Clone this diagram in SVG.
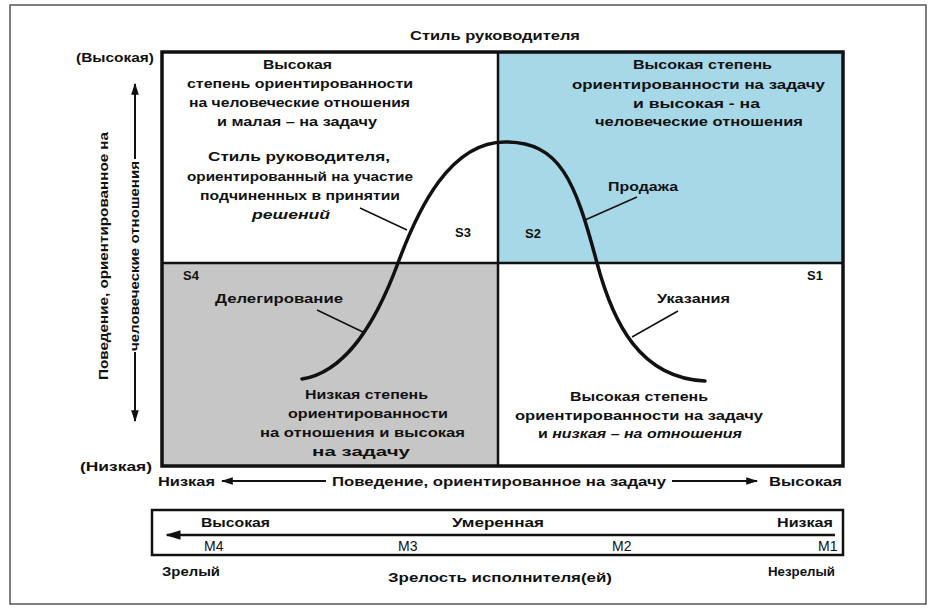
<svg xmlns="http://www.w3.org/2000/svg" width="929" height="610" viewBox="0 0 929 610">
<defs>
<style>
text{font-family:"Liberation Sans","DejaVu Sans",sans-serif;fill:#111;font-weight:bold;font-size:12.5px}
.ax{font-size:13px}
.it{font-style:italic}
.reg{font-weight:normal;font-size:14px}
.ln{stroke:#111;fill:none}
</style>
<marker id="ah" viewBox="0 0 10 10" refX="9" refY="5" markerWidth="6" markerHeight="6" orient="auto-start-reverse" markerUnits="strokeWidth">
<path d="M0,1.8 L10,5 L0,8.2 Z" fill="#111"/>
</marker>
</defs>
<rect x="0" y="0" width="929" height="610" fill="#fff"/>
<rect x="10" y="5" width="916" height="599" fill="none" stroke="#555" stroke-width="1.5"/>

<g id="title"><text class="ax" x="410" y="40" textLength="170" lengthAdjust="spacingAndGlyphs">Стиль руководителя</text></g>

<g id="quadrant-s3">
<rect x="162" y="52" width="336" height="211" fill="#fff"/>
<text x="263" y="69" textLength="69" lengthAdjust="spacingAndGlyphs">Высокая</text>
<text x="187" y="88" textLength="226" lengthAdjust="spacingAndGlyphs">степень ориентированности</text>
<text x="189" y="107" textLength="221" lengthAdjust="spacingAndGlyphs">на человеческие отношения</text>
<text x="217" y="126" textLength="160" lengthAdjust="spacingAndGlyphs">и малая – на задачу</text>
<text x="208" y="161" textLength="182" lengthAdjust="spacingAndGlyphs">Стиль руководителя,</text>
<text x="187" y="181" textLength="226" lengthAdjust="spacingAndGlyphs">ориентированный на участие</text>
<text x="200" y="200" textLength="200" lengthAdjust="spacingAndGlyphs">подчиненных в принятии</text>
<text class="it" x="252" y="219" textLength="78" lengthAdjust="spacingAndGlyphs">решений</text>
<text class="ax" x="455" y="237">S3</text>
</g>

<g id="quadrant-s2">
<rect x="498" y="52" width="345" height="211" fill="#a7d8e7"/>
<text x="633" y="69" textLength="139" lengthAdjust="spacingAndGlyphs">Высокая степень</text>
<text x="572" y="89" textLength="253" lengthAdjust="spacingAndGlyphs">ориентированности на задачу</text>
<text x="633" y="108" textLength="127" lengthAdjust="spacingAndGlyphs">и высокая - на</text>
<text x="595" y="126" textLength="208" lengthAdjust="spacingAndGlyphs">человеческие отношения</text>
<text x="608" y="191" textLength="70" lengthAdjust="spacingAndGlyphs">Продажа</text>
<text class="ax" x="525" y="238">S2</text>
</g>

<g id="quadrant-s4">
<rect x="162" y="263" width="336" height="203" fill="#c6c6c6"/>
<text class="ax" x="183" y="280">S4</text>
<text x="215" y="303" textLength="128" lengthAdjust="spacingAndGlyphs">Делегирование</text>
<text x="305" y="399" textLength="123" lengthAdjust="spacingAndGlyphs">Низкая степень</text>
<text x="288" y="418" textLength="160" lengthAdjust="spacingAndGlyphs">ориентированности</text>
<text x="260" y="437" textLength="205" lengthAdjust="spacingAndGlyphs">на отношения и высокая</text>
<text x="312" y="456" textLength="98" lengthAdjust="spacingAndGlyphs">на задачу</text>
</g>

<g id="quadrant-s1">
<rect x="498" y="263" width="345" height="203" fill="#fff"/>
<text class="ax" x="807" y="280">S1</text>
<text x="657" y="303" textLength="73" lengthAdjust="spacingAndGlyphs">Указания</text>
<text x="570" y="401" textLength="138" lengthAdjust="spacingAndGlyphs">Высокая степень</text>
<text x="515" y="420" textLength="248" lengthAdjust="spacingAndGlyphs">ориентированности на задачу</text>
<text x="538" y="438" textLength="204" lengthAdjust="spacingAndGlyphs">и <tspan class="it">низкая – на отношения</tspan></text>
</g>

<g id="grid">
<rect x="162" y="52" width="681" height="414" class="ln" stroke-width="3.5"/>
<line x1="498" y1="52" x2="498" y2="466" class="ln" stroke-width="2.5"/>
<line x1="162" y1="263" x2="843" y2="263" class="ln" stroke-width="2.5"/>
</g>

<g id="y-axis">
<text class="ax" x="76" y="62" textLength="78" lengthAdjust="spacingAndGlyphs">(Высокая)</text>
<text class="ax" x="80" y="471" textLength="72" lengthAdjust="spacingAndGlyphs">(Низкая)</text>
<text class="ax" transform="translate(108,256) rotate(-90)" text-anchor="middle" textLength="248" lengthAdjust="spacingAndGlyphs">Поведение, ориентированное на</text>
<text class="ax" transform="translate(139,256) rotate(-90)" text-anchor="middle" textLength="190" lengthAdjust="spacingAndGlyphs">человеческие отношения</text>
</g>

<g id="x-axis">
<text class="ax" x="158" y="486" textLength="57" lengthAdjust="spacingAndGlyphs">Низкая</text>
<text class="ax" x="332" y="486" textLength="334" lengthAdjust="spacingAndGlyphs">Поведение, ориентированное на задачу</text>
<text class="ax" x="769" y="486" textLength="73" lengthAdjust="spacingAndGlyphs">Высокая</text>
</g>

<g id="maturity-scale">
<rect x="152" y="510" width="691" height="45" class="ln" stroke-width="2.5"/>
<text class="ax" x="201" y="527" textLength="69" lengthAdjust="spacingAndGlyphs">Высокая</text>
<text class="ax" x="452" y="527" textLength="92" lengthAdjust="spacingAndGlyphs">Умеренная</text>
<text class="ax" x="777" y="527" textLength="56" lengthAdjust="spacingAndGlyphs">Низкая</text>
<text class="reg" x="204" y="551">M4</text>
<text class="reg" x="398" y="551">M3</text>
<text class="reg" x="612" y="551">M2</text>
<text class="reg" x="818" y="551">M1</text>
<text class="ax" x="162" y="576" textLength="58" lengthAdjust="spacingAndGlyphs">Зрелый</text>
<text class="ax" x="388" y="582" textLength="224" lengthAdjust="spacingAndGlyphs">Зрелость исполнителя(ей)</text>
<text class="ax" x="768" y="576" textLength="67" lengthAdjust="spacingAndGlyphs">Незрелый</text>
</g>

<g id="connectors">
<path class="ln" stroke-width="3.5" stroke-linecap="round" d="M302,379 C345,372 375,325 398,263 C418,209 450,142 505,142 C560,142 575,180 597,263 C613,323 640,378 705,381"/>
<line class="ln" stroke-width="1.5" x1="360" y1="208" x2="407" y2="230"/>
<line class="ln" stroke-width="1.5" x1="637" y1="197" x2="585" y2="220"/>
<line class="ln" stroke-width="1.5" x1="317" y1="310" x2="365" y2="333"/>
<line class="ln" stroke-width="1.5" x1="678" y1="311" x2="632" y2="337"/>
<line class="ln" stroke-width="2" x1="135" y1="159" x2="135" y2="84" marker-end="url(#ah)"/>
<line class="ln" stroke-width="2" x1="135" y1="352" x2="135" y2="421" marker-end="url(#ah)"/>
<line class="ln" stroke-width="2" x1="326" y1="481" x2="222" y2="481" marker-end="url(#ah)"/>
<line class="ln" stroke-width="2" x1="672" y1="481" x2="757" y2="481" marker-end="url(#ah)"/>
<line class="ln" stroke-width="2.5" x1="835" y1="535" x2="167" y2="535" marker-end="url(#ah)"/>
</g>
</svg>
